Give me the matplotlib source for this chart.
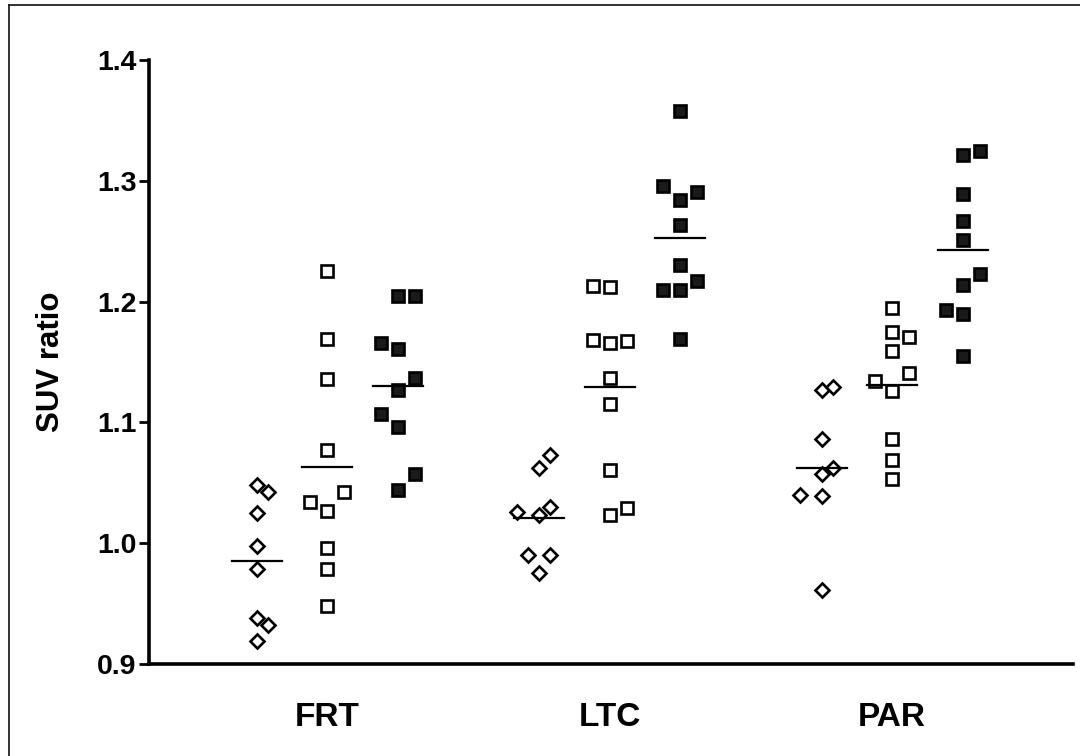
import numpy as np
import matplotlib
matplotlib.use("Agg")
import matplotlib.pyplot as plt
from matplotlib.lines import Line2D

plt.rcParams['font.family'] = ['Liberation Sans', 'DejaVu Sans']

categories = ["FRT", "LTC", "PAR"]

# diamonds (open), open squares, filled squares
diamond_vals = [
    [1.048, 1.042, 1.025, 0.998, 0.979, 0.938, 0.932, 0.919],
    [1.073, 1.062, 1.026, 1.023, 1.030, 0.990, 0.990, 0.975],
    [1.127, 1.129, 1.086, 1.062, 1.057, 1.040, 1.039, 0.961],
]
diamond_jit = [
    [0, 1, 0, 0, 0, 0, 1, 0],
    [1, 0, -2, 0, 1, -1, 1, 0],
    [0, 1, 0, 1, 0, -2, 0, 0],
]
open_vals = [
    [1.225, 1.169, 1.136, 1.077, 1.034, 1.027, 1.042, 0.996, 0.979, 0.948],
    [1.213, 1.212, 1.168, 1.166, 1.167, 1.137, 1.115, 1.061, 1.023, 1.029],
    [1.195, 1.175, 1.171, 1.159, 1.141, 1.134, 1.126, 1.086, 1.069, 1.053],
]
open_jit = [
    [0, 0, 0, 0, -1, 0, 1, 0, 0, 0],
    [-1, 0, -1, 0, 1, 0, 0, 0, 0, 1],
    [0, 0, 1, 0, 1, -1, 0, 0, 0, 0],
]
filled_vals = [
    [1.205, 1.205, 1.166, 1.161, 1.137, 1.127, 1.107, 1.096, 1.057, 1.044],
    [1.358, 1.296, 1.284, 1.291, 1.263, 1.230, 1.210, 1.210, 1.217, 1.169],
    [1.321, 1.325, 1.289, 1.267, 1.251, 1.223, 1.214, 1.193, 1.190, 1.155],
]
filled_jit = [
    [0, 1, -1, 0, 1, 0, -1, 0, 1, 0],
    [0, -1, 0, 1, 0, 0, -1, 0, 1, 0],
    [0, 1, 0, 0, 0, 1, 0, -1, 0, 0],
]
yticks = [0.9, 1.0, 1.1, 1.2, 1.3, 1.4]

fig = plt.figure(figsize=(10.8, 7.56), dpi=100)
ax = fig.add_axes([149/1080, 92/756, (1073-149)/1080, (664-60)/756])

series = [
    (diamond_vals, diamond_jit, -0.25, 'D', 7.3, 'white', 0.039),
    (open_vals, open_jit, 0.0, 's', 8.0, 'white', 0.06),
    (filled_vals, filled_jit, 0.25, 's', 8.0, '#1a1a1a', 0.06),
]
for vals_all, jit_all, off, mk, ms, fc, step in series:
    for gi, (vals, jit) in enumerate(zip(vals_all, jit_all)):
        cx = gi + off
        xs = cx + np.array(jit) * step
        ax.plot(xs, vals, linestyle='none', marker=mk, markersize=ms,
                markerfacecolor=fc, markeredgecolor='black', markeredgewidth=1.9,
                zorder=3)
        m = np.mean(vals)
        ax.plot([cx - 0.0885, cx + 0.0885], [m, m], color='black', lw=1.6, zorder=4)

ax.set_xlim(-0.631, 2.640)
ax.set_ylim(0.9, 1.4)
ax.set_yticks(yticks)
ax.set_yticklabels([f"{v:.1f}" for v in yticks], fontsize=20.5, fontweight='bold')
ax.set_xticks(range(len(categories)))
ax.set_xticklabels(categories, fontsize=24, fontweight='bold')
ax.tick_params(axis='x', length=0, pad=27)
ax.tick_params(axis='y', length=7, width=2, direction='out', pad=2)
ax.set_ylabel("SUV ratio", fontsize=22.5, fontweight='bold', labelpad=22)
for s in ['top', 'right']:
    ax.spines[s].set_visible(False)
for s in ['left', 'bottom']:
    ax.spines[s].set_linewidth(2.6)

# outer frame
fig.add_artist(Line2D([8.5/1080, 8.5/1080], [0, 1 - 5/756], transform=fig.transFigure,
                      color='#222222', lw=1.3))
fig.add_artist(Line2D([8.5/1080, 1], [1 - 5/756, 1 - 5/756], transform=fig.transFigure,
                      color='#222222', lw=1.3))

fig.savefig("out.png", dpi=100)
